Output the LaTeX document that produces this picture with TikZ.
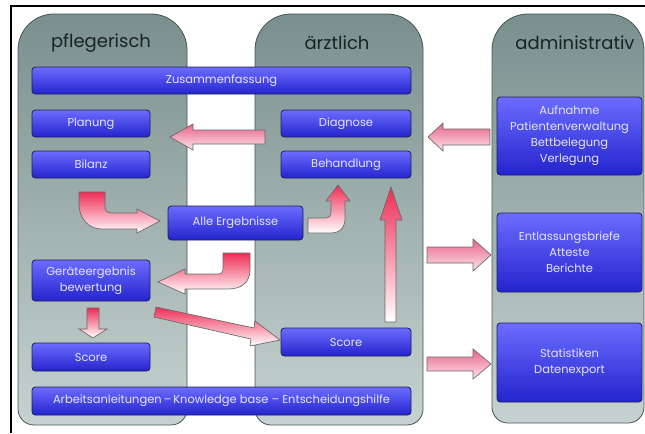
\documentclass[tikz,border=0pt]{standalone}
\usepackage{fontspec}
\setmainfont{Poppins}
\definecolor{colTop}{RGB}{122,144,142}
\definecolor{colBot}{RGB}{198,210,208}
\definecolor{colLine}{RGB}{70,84,84}
\definecolor{boxTop}{RGB}{108,108,255}
\definecolor{boxBot}{RGB}{36,36,205}
\definecolor{boxLine}{RGB}{30,30,90}
\definecolor{boxText}{RGB}{228,228,255}
\definecolor{headText}{RGB}{25,35,35}
\definecolor{arrRed}{RGB}{238,45,85}
\definecolor{arrPink}{RGB}{232,100,136}
\definecolor{arrLight}{RGB}{252,228,236}
\definecolor{arrLine}{RGB}{105,105,105}
\newcommand\pxbox[6]{\node[bbox, minimum width={(#4-#2)*0.75pt}, minimum height={(#5-#3)*0.75pt}] (#1) at ({(#2+#4)/2},{(#3+#5)/2}) {#6};}
\begin{document}
\begin{tikzpicture}[x=0.75pt,y=-0.75pt,
  col/.style={draw=colLine, line width=0.6pt, top color=colTop, bottom color=colBot},
  bbox/.style={draw=boxLine, line width=0.6pt, rounded corners=2.5pt, top color=boxTop, bottom color=boxBot, text=boxText, font=\fontsize{8.6}{12}\selectfont, inner sep=0pt, outer sep=0pt, align=center},
  colhead/.style={font=\fontsize{13.5}{15}\selectfont, text=headText},
  varr/.style={draw=arrLine, line width=0.5pt, top color=arrRed, bottom color=white},
  harr/.style={draw=arrLine, line width=0.5pt, top color=arrPink, bottom color=arrLight}
]
\useasboundingbox (0,0) rectangle (645,433);
\fill[white] (0,0) rectangle (645,433);
\draw[line width=1pt] (11,433) -- (11,6) -- (645,6);
% columns
\path[col] (18,240) [rounded corners=27pt] -- (18,14) -- (187,14) -- (187,240) [rounded corners=12pt] -- (187,425) -- (18,425) -- cycle;
\path[col] (255,240) [rounded corners=27pt] -- (255,14) -- (423,14) -- (423,240) [rounded corners=12pt] -- (423,425) -- (255,425) -- cycle;
\path[col] (492,240) [rounded corners=27pt] -- (492,14) -- (644,14) -- (644,240) [rounded corners=12pt] -- (644,423) -- (492,423) -- cycle;
\node[colhead] (hp) at (101,43) {pflegerisch};
\node[colhead] (ha) at (337,43) {ärztlich};
\node[colhead] (hv) at (575,43) {administrativ};
% boxes
\pxbox{zus}{32}{67}{411}{94}{Zusammenfassung}
\pxbox{plan}{32}{110}{150}{137}{Planung}
\pxbox{bil}{32}{151}{150}{178}{Bilanz}
\pxbox{diag}{281}{110}{411}{137}{Diagnose}
\pxbox{beh}{281}{151}{411}{178}{Behandlung}
\pxbox{alle}{168}{206}{303}{240}{Alle Ergebnisse}
\pxbox{ger}{32}{260}{150}{301}{Geräteergebnis\\bewertung}
\pxbox{scl}{32}{343}{150}{371}{Score}
\pxbox{scm}{281}{328}{411}{356}{Score}
\pxbox{arb}{32}{387}{411}{415}{Arbeitsanleitungen\,–\,Knowledge base – Entscheidungshilfe}
\pxbox{auf}{497}{97}{642}{175}{Aufnahme\\Patientenverwaltung\\Bettbelegung\\Verlegung}
\pxbox{ent}{497}{213}{642}{292}{Entlassungsbriefe\\Atteste\\Berichte}
\pxbox{sta}{497}{323}{642}{402}{Statistiken\\Datenexport}
% block arrows
\path[harr] (265,130) -- (193,130) -- (193,124) -- (170,137) -- (193,150) -- (193,144) -- (265,144) -- cycle;
\path[harr] (490,129) -- (443,129) -- (443,123) -- (428,137) -- (443,151) -- (443,145) -- (490,145) -- cycle;
\path[harr] (427,247) -- (473,247) -- (473,239) -- (491,255) -- (473,271) -- (473,263) -- (427,263) -- cycle;
\path[harr] (427,357) -- (473,357) -- (473,349) -- (491,364) -- (473,379) -- (473,371) -- (427,371) -- cycle;
\path[varr] (79,192) -- (105,192) -- (105,206) .. controls (105,211) and (107,213) .. (112,213) -- (137,213) -- (137,209) -- (160,221) -- (137,233) -- (137,229) -- (102,229) .. controls (88,229) and (79,218) .. (79,204) -- cycle;
\path[varr] (308,218) -- (325,218) .. controls (329,218) and (331,216) .. (331,212) -- (331,201) -- (326,201) -- (338,185) -- (350,201) -- (345,201) -- (345,218) .. controls (345,228) and (340,233) .. (330,233) -- (308,233) -- cycle;
\path[varr] (223,253) -- (250,253) -- (250,270) .. controls (250,282) and (242,289) .. (228,289) -- (185,289) -- (185,294) -- (158,282) -- (185,269) -- (185,274) -- (218,274) .. controls (222,274) and (223,272) .. (223,268) -- cycle;
\path[varr] (87,308) -- (99,308) -- (99,329) -- (107,329) -- (93,338) -- (79,329) -- (87,329) -- cycle;
\path[varr] (156,307) -- (254,328) -- (255,321) -- (280,340) -- (250,346) -- (251,339) -- (154,317) -- cycle;
\path[varr] (385,322) -- (385,220) -- (380,220) -- (391,187) -- (402,220) -- (396,220) -- (396,322) -- cycle;
\end{tikzpicture}
\end{document}
